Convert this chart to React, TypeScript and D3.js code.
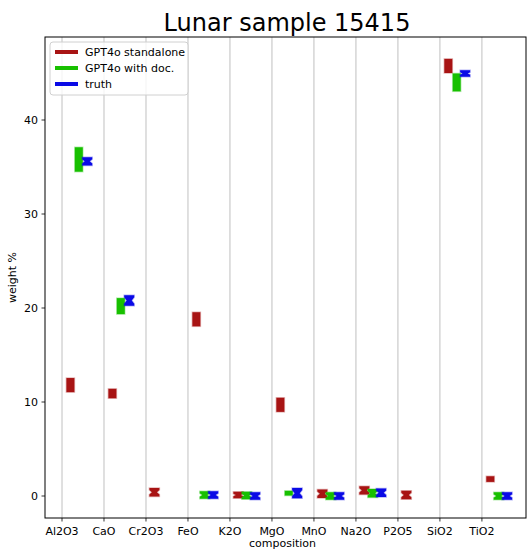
import React, { useEffect, useRef } from "react";
import * as d3 from "d3";

const categories = ["Al2O3", "CaO", "Cr2O3", "FeO", "K2O", "MgO", "MnO", "Na2O", "P2O5", "SiO2", "TiO2"];

// value, error, shape ("bar" or "x")
const standaloneVal = [11.8, 10.9, 0.4, 18.8, 0.1, 9.7, 0.25, 0.6, 0.1, 45.75, 1.8];
const standaloneErr = [0.75, 0.5, 0.45, 0.75, 0.35, 0.75, 0.45, 0.45, 0.45, 0.75, 0.3];
const standaloneShape = ["bar", "bar", "x", "bar", "x", "bar", "x", "x", "x", "bar", "bar"];

const withDocVal = [35.8, 20.2, null, 0.1, 0.05, 0.3, 0.0, 0.3, null, 44.0, 0.0];
const withDocErr = [1.3, 0.85, 0, 0.4, 0.4, 0.25, 0.4, 0.45, 0, 0.95, 0.4];
const withDocShape = ["bar", "bar", "x", "x", "x", "bar", "x", "x", "x", "bar", "x"];

const truthVal = [35.6, 20.8, null, 0.1, 0.0, 0.3, 0.0, 0.35, null, 44.95, 0.0];
const truthErr = [0.45, 0.55, 0, 0.4, 0.4, 0.55, 0.4, 0.45, 0, 0.35, 0.4];
const truthShape = ["x", "x", "x", "x", "x", "x", "x", "x", "x", "x", "x"];

const seriesNames = ["GPT4o standalone", "GPT4o with doc.", "truth"];
const seriesColors = ["#a81414", "#18c000", "#0a0ae6"];
const offsets = [0.2, 0.4, 0.6];
const yTicks = [0, 10, 20, 30, 40];

export default function App() {
  const ref = useRef<SVGSVGElement>(null);
  const width = 527;
  const height = 550;

  useEffect(() => {
    const svg = d3.select(ref.current);
    svg.selectAll("*").remove();

    const left = 45, right = 526, top = 37, bottom = 518;
    const x = d3.scaleLinear().domain([-0.405, 11.05]).range([left, right]);
    const y = d3.scaleLinear().domain([-2.34, 48.83]).range([bottom, top]);
    const font = "DejaVu Sans, sans-serif";

    // grid
    categories.forEach((c, i) => {
      svg.append("line")
        .attr("x1", x(i)).attr("x2", x(i))
        .attr("y1", top).attr("y2", bottom)
        .attr("stroke", "#b0b0b0").attr("stroke-width", 0.8);
    });

    const series = [
      { val: standaloneVal, err: standaloneErr, shape: standaloneShape },
      { val: withDocVal, err: withDocErr, shape: withDocShape },
      { val: truthVal, err: truthErr, shape: truthShape },
    ];

    series.forEach((s, si) => {
      const color = seriesColors[si];
      s.val.forEach((v, i) => {
        if (v === null) return;
        const cx = x(i + offsets[si]);
        const y1 = y(v + s.err[i]);
        const y2 = y(v - s.err[i]);
        if (s.shape[i] === "bar") {
          svg.append("rect")
            .attr("x", cx - 4).attr("width", 8)
            .attr("y", y1).attr("height", y2 - y1)
            .attr("fill", color)
            .attr("stroke", color).attr("stroke-opacity", 0.3).attr("stroke-width", 1.5);
        } else {
          const mid = (y1 + y2) / 2;
          const pts: [number, number][] = [
            [cx - 5, y1], [cx + 5, y1], [cx + 5, y1 + 2], [cx + 2.5, mid],
            [cx + 5, y2 - 2], [cx + 5, y2], [cx - 5, y2], [cx - 5, y2 - 2],
            [cx - 2.5, mid], [cx - 5, y1 + 2],
          ];
          svg.append("path")
            .attr("d", d3.line()(pts) + "Z")
            .attr("fill", color)
            .attr("stroke", color).attr("stroke-opacity", 0.3).attr("stroke-width", 1.5);
        }
      });
    });

    // frame
    svg.append("rect")
      .attr("x", left).attr("y", top)
      .attr("width", right - left).attr("height", bottom - top)
      .attr("fill", "none").attr("stroke", "#000").attr("stroke-width", 1);

    // x ticks
    categories.forEach((c, i) => {
      svg.append("line")
        .attr("x1", x(i)).attr("x2", x(i))
        .attr("y1", bottom).attr("y2", bottom + 3.5)
        .attr("stroke", "#000").attr("stroke-width", 0.8);
      svg.append("text")
        .attr("x", x(i)).attr("y", bottom + 17)
        .attr("text-anchor", "middle")
        .attr("font-family", font).attr("font-size", 11)
        .text(c);
    });

    // y ticks
    yTicks.forEach(t => {
      svg.append("line")
        .attr("x1", left - 3.5).attr("x2", left)
        .attr("y1", y(t)).attr("y2", y(t))
        .attr("stroke", "#000").attr("stroke-width", 0.8);
      svg.append("text")
        .attr("x", left - 7).attr("y", y(t) + 4)
        .attr("text-anchor", "end")
        .attr("font-family", font).attr("font-size", 11)
        .text(t);
    });

    // labels
    svg.append("text")
      .attr("x", (left + right) / 2 - 3).attr("y", 546.5)
      .attr("text-anchor", "middle")
      .attr("font-family", font).attr("font-size", 11)
      .text("composition");
    svg.append("text")
      .attr("transform", `translate(16,${(top + bottom) / 2}) rotate(-90)`)
      .attr("text-anchor", "middle")
      .attr("font-family", font).attr("font-size", 11)
      .text("weight %");
    svg.append("text")
      .attr("x", 287).attr("y", 31)
      .attr("text-anchor", "middle")
      .attr("font-family", font).attr("font-size", 24)
      .text("Lunar sample 15415");

    // legend
    const lg = svg.append("g").attr("transform", "translate(50,42)");
    lg.append("rect")
      .attr("width", 138).attr("height", 53).attr("rx", 3)
      .attr("fill", "#fff").attr("fill-opacity", 0.8)
      .attr("stroke", "#d0d0d0").attr("stroke-width", 1);
    seriesNames.forEach((n, i) => {
      const ly = 10 + i * 16;
      lg.append("line")
        .attr("x1", 5).attr("x2", 28)
        .attr("y1", ly).attr("y2", ly)
        .attr("stroke", seriesColors[i]).attr("stroke-width", 4);
      lg.append("text")
        .attr("x", 35).attr("y", ly + 4)
        .attr("font-family", font).attr("font-size", 11)
        .text(n);
    });
  }, []);

  return (
    <svg ref={ref} width={width} height={height}
      style={{ position: "absolute", left: 0, top: 0, background: "#fff" }} />
  );
}
